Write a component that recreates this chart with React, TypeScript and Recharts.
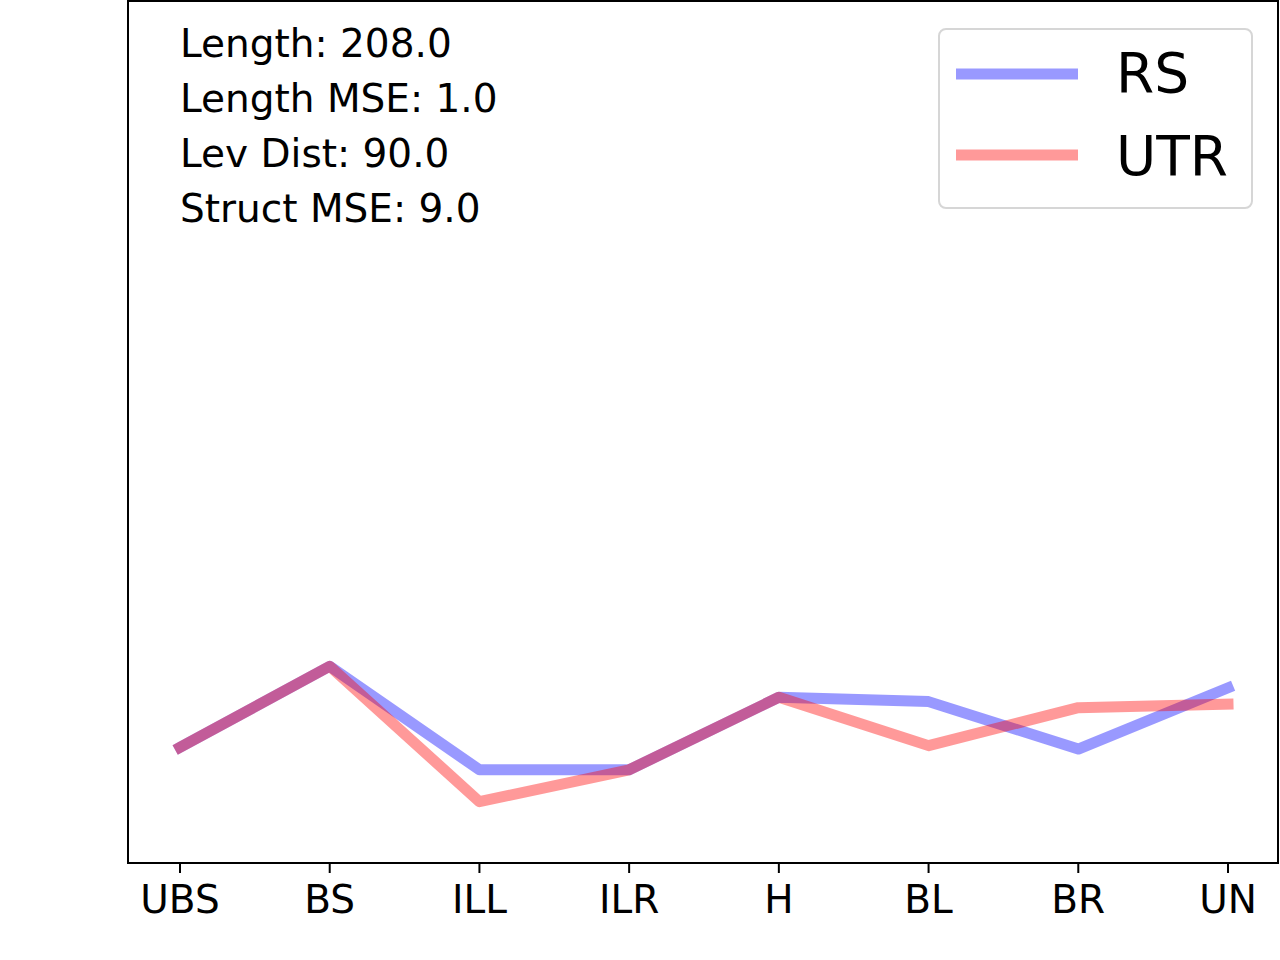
import { Line, LineChart, XAxis, YAxis } from "recharts";

const categories = ["UBS", "BS", "ILL", "ILR", "H", "BL", "BR", "UN"];
const rsValues = [13.4, 22.8, 10.8, 10.8, 19.2, 18.7, 13.2, 20.3];
const utrValues = [13.4, 22.8, 7.1, 10.8, 19.2, 13.6, 18.0, 18.4];
const statLines = ["Length: 208.0", "Length MSE: 1.0", "Lev Dist: 90.0", "Struct MSE: 9.0"];

const FONT = "'DejaVu Sans', sans-serif";
const BLUE = "#0000ff";
const RED = "#ff0000";

const data = categories.map((name, i) => ({ name, RS: rsValues[i], UTR: utrValues[i] }));

function LegendBox() {
  const items = [
    { label: "RS", color: BLUE, y: 44, base: 62 },
    { label: "UTR", color: RED, y: 125, base: 145 },
  ];
  return (
    <div
      style={{
        position: "absolute",
        left: 938,
        top: 28,
        width: 315,
        height: 181,
        boxSizing: "border-box",
        border: "2px solid #d6d6d6",
        borderRadius: 8,
        background: "rgba(255,255,255,0.8)",
      }}
    >
      <svg width={311} height={177} style={{ position: "absolute", left: 0, top: 0 }}>
        {items.map((it) => (
          <g key={it.label}>
            <line
              x1={16}
              x2={138}
              y1={it.y}
              y2={it.y}
              stroke={it.color}
              strokeOpacity={0.4}
              strokeWidth={11}
            />
            <text x={176} y={it.base} fontFamily={FONT} fontSize={55} fill="#000">
              {it.label}
            </text>
          </g>
        ))}
      </svg>
    </div>
  );
}

export default function App() {
  return (
    <div style={{ position: "absolute", left: 0, top: 0, width: 1280, height: 960, background: "#fff" }}>
      <LineChart
        width={1280}
        height={960}
        data={data}
        margin={{ top: 0, right: 2, left: 128, bottom: 37 }}
      >
        <XAxis
          dataKey="name"
          height={60}
          axisLine={false}
          tickLine={{ stroke: "#000", strokeWidth: 2 }}
          tickSize={10}
          tickMargin={12}
          padding={{ left: 52, right: 50 }}
          interval={0}
          tick={{ fontSize: 39, fontFamily: FONT, fill: "#000" }}
        />
        <YAxis hide domain={[0, 100]} />
        <Line
          dataKey="RS"
          stroke={BLUE}
          strokeOpacity={0.4}
          strokeWidth={11}
          strokeLinecap="square"
          strokeLinejoin="round"
          dot={false}
          activeDot={false}
          isAnimationActive={false}
        />
        <Line
          dataKey="UTR"
          stroke={RED}
          strokeOpacity={0.4}
          strokeWidth={11}
          strokeLinecap="square"
          strokeLinejoin="round"
          dot={false}
          activeDot={false}
          isAnimationActive={false}
        />
      </LineChart>
      <div
        style={{
          position: "absolute",
          left: 127,
          top: 0,
          width: 1152,
          height: 864,
          boxSizing: "border-box",
          border: "2px solid #000",
          pointerEvents: "none",
        }}
      />
      <svg width={600} height={260} style={{ position: "absolute", left: 0, top: 0 }}>
        {statLines.map((t, i) => (
          <text key={t} x={180} y={[57, 112, 167, 222][i]} fontFamily={FONT} fontSize={39} fill="#000">
            {t}
          </text>
        ))}
      </svg>
      <LegendBox />
    </div>
  );
}
